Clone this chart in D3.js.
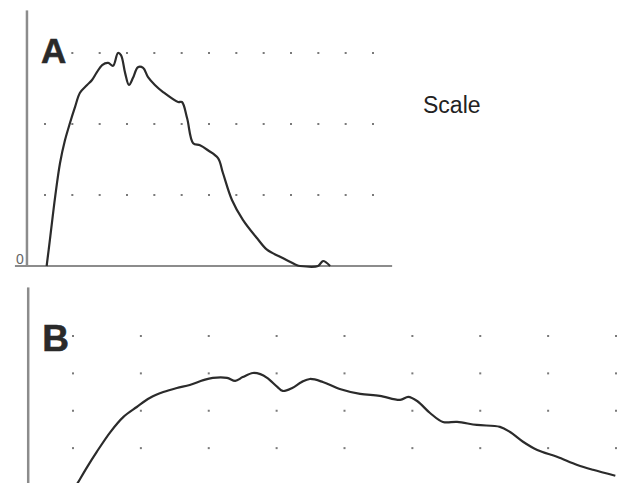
<!DOCTYPE html>
<html>
<head>
<meta charset="utf-8">
<script src="https://cdn.jsdelivr.net/npm/d3@7"></script>
<style>
    body { margin: 0; background: #fff; }
    svg { display: block; font-family: 'Liberation Sans', Arial, sans-serif; }
</style>
</head>
<body>
<div id="chart"></div>
<script>
// panel A trace (x in grid columns, y in grid rows)
let aX = [0.06, 0.18, 0.37, 0.55, 0.73, 0.91, 1.10, 1.28, 1.54, 1.72, 1.90, 2.09, 2.31, 2.49, 2.67, 2.78, 2.93, 3.07, 3.22, 3.40, 3.59, 3.77, 4.02, 4.32, 4.87, 5.01, 5.20, 5.42, 5.67, 5.96, 6.33, 6.51, 6.84, 7.24, 7.76, 8.12, 8.60, 8.96, 9.22, 9.33, 9.99, 10.17, 10.43]
let aY = [0, 0.37, 0.97, 1.45, 1.77, 2.01, 2.24, 2.44, 2.55, 2.62, 2.73, 2.83, 2.86, 2.82, 3.0, 2.97, 2.72, 2.55, 2.65, 2.80, 2.79, 2.66, 2.55, 2.45, 2.31, 2.31, 2.08, 1.73, 1.70, 1.63, 1.52, 1.31, 0.93, 0.65, 0.39, 0.23, 0.13, 0.06, 0.01, 0, 0, 0.07, 0]

// panel B trace
let bX = [-0.05, 0.07, 0.21, 0.35, 0.55, 0.74, 0.94, 1.13, 1.33, 1.53, 1.72, 1.92, 2.06, 2.27, 2.39, 2.50, 2.65, 2.76, 2.86, 3.01, 3.09, 3.23, 3.37, 3.49, 3.68, 3.93, 4.23, 4.52, 4.82, 4.94, 5.07, 5.26, 5.45, 5.66, 5.95, 6.29, 6.44, 6.63, 6.84, 7.13, 7.43, 7.66, 7.99]
let bY = [-0.3, 0.07, 0.50, 0.90, 1.43, 1.83, 2.10, 2.34, 2.50, 2.61, 2.69, 2.82, 2.88, 2.88, 2.80, 2.90, 3.01, 2.98, 2.88, 2.64, 2.53, 2.61, 2.77, 2.85, 2.77, 2.58, 2.45, 2.40, 2.29, 2.37, 2.26, 1.94, 1.70, 1.70, 1.62, 1.57, 1.43, 1.17, 0.95, 0.77, 0.55, 0.42, 0.26]

let panelLabels = ['A', 'B']
let aGridCols = d3.range(0, 13)
let aGridRows = [1, 2, 3]
let bGridCols = d3.range(0, 9)
let bGridRows = [1, 2, 3, 4]
let zeroLabel = '0'
let scaleLabel = 'Scale'

class Panel {
    constructor(opts) {
        this.plot = opts.plot;
        this.xs = opts.xs;
        this.ys = opts.ys;
        this.label = opts.label;
        this.xScale = opts.xScale;
        this.yScale = opts.yScale;
        this.cols = opts.cols;
        this.rows = opts.rows;
        this.yTop = opts.yTop;
        this.labelDy = opts.labelDy;
        this.labelSize = opts.labelSize;
        this.showBase = opts.showBase;
        this.skip = opts.skip || (() => false);
        this.axisColor = '#8c8c8c';
        this.lineColor = '#2b2b2b';
        this.draw();
    }

    draw() {
        let x = this.xScale, y = this.yScale;
        let g = this.plot.append('g');

        // dotted grid
        let dots = [];
        this.rows.forEach(r => this.cols.forEach(c => {
            if (!this.skip(c, r)) dots.push({c, r});
        }))
        g.selectAll('rect.dot')
            .data(dots)
            .join('rect')
            .attr('class', 'dot')
            .attr('x', d => x(d.c) - 1)
            .attr('y', d => y(d.r) - 1)
            .attr('width', 2)
            .attr('height', 2)
            .attr('fill', '#7a7a7a')

        // axes
        let axisX = x(-0.66);
        g.append('line')
            .attr('x1', axisX).attr('x2', axisX)
            .attr('y1', y(this.yTop)).attr('y2', this.showBase ? y(0) : y(-0.2))
            .attr('stroke', this.axisColor)
            .attr('stroke-width', 2.5)

        if (this.showBase) {
            g.append('line')
                .attr('x1', x(-1.1)).attr('x2', x(12.7))
                .attr('y1', y(0)).attr('y2', y(0))
                .attr('stroke', this.axisColor)
                .attr('stroke-width', 2)

            g.append('text')
                .attr('x', x(-1.1) + 1)
                .attr('y', y(0) - 2)
                .attr('font-size', 14)
                .attr('fill', '#666')
                .text(zeroLabel)
        }

        let line = d3.line()
            .x(i => x(this.xs[i]))
            .y(i => y(this.ys[i]))
            .curve(d3.curveCatmullRom)

        g.append('path')
            .datum(d3.range(this.xs.length))
            .attr('fill', 'none')
            .attr('stroke', this.lineColor)
            .attr('stroke-width', 2.2)
            .attr('stroke-linejoin', 'round')
            .attr('d', line)

        g.append('text')
            .attr('x', axisX + 14)
            .attr('y', y(this.rows[this.rows.length - 1]) + this.labelDy)
            .attr('font-size', this.labelSize)
            .attr('font-weight', 'bold')
            .attr('fill', '#2a2a2a')
            .attr('stroke', '#2a2a2a')
            .attr('stroke-width', 0.6)
            .text(this.label)
    }
}

const width = 633, height = 483;
const svg = d3.select('#chart').append('svg')
    .attr('width', width)
    .attr('height', height)

const plot = svg.append('g')

new Panel({
    plot: plot,
    xs: aX, ys: aY,
    label: panelLabels[0],
    xScale: d3.scaleLinear().domain([0, 12]).range([45, 373]),
    yScale: d3.scaleLinear().domain([0, 3]).range([266, 53]),
    cols: aGridCols, rows: aGridRows,
    yTop: 3.6,
    labelDy: 10,
    labelSize: 35,
    showBase: true,
    skip: (c, r) => c == 0 && r == 3
})

new Panel({
    plot: plot,
    xs: bX, ys: bY,
    label: panelLabels[1],
    xScale: d3.scaleLinear().domain([0, 8]).range([73, 616]),
    yScale: d3.scaleLinear().domain([0, 4]).range([485.5, 336]),
    cols: bGridCols, rows: bGridRows,
    yTop: 5.3,
    labelDy: 15,
    labelSize: 37,
    showBase: false
})

svg.append('text')
    .attr('x', 423)
    .attr('y', 113)
    .attr('font-size', 23)
    .attr('fill', '#222')
    .text(scaleLabel)
</script>
</body>
</html>
